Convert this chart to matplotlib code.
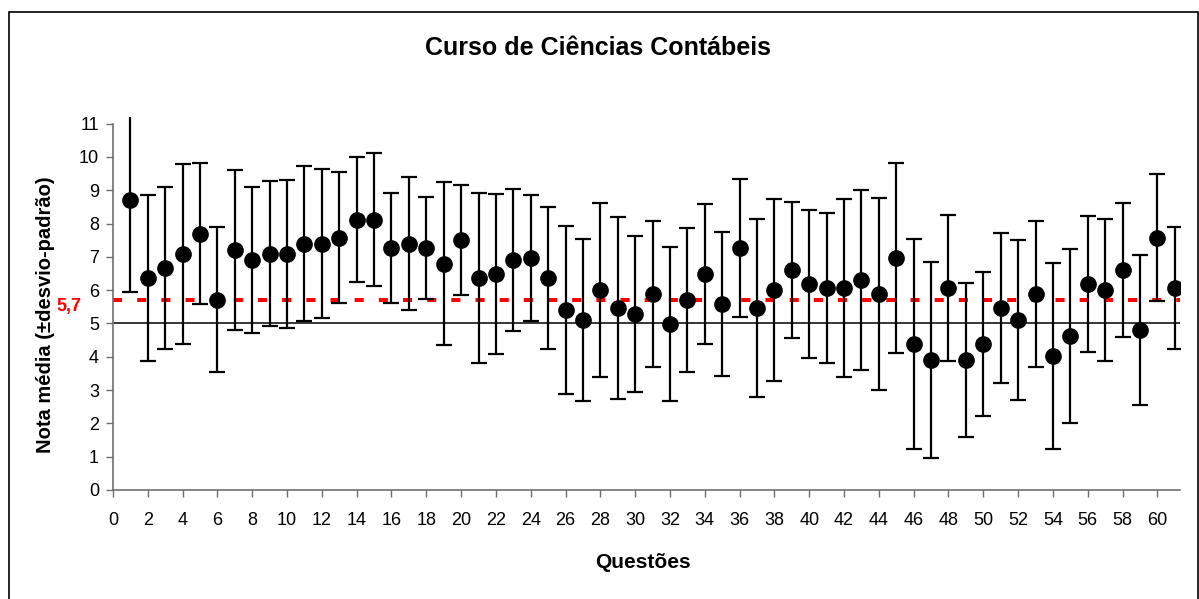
import matplotlib
matplotlib.use("Agg")
import matplotlib.pyplot as plt
from matplotlib.patches import Rectangle

plt.rcParams['font.family'] = ['Liberation Sans', 'DejaVu Sans']

# Nota média e desvio-padrão por questão
questoes = list(range(1, 62))
media = [8.72, 6.36, 6.66, 7.09, 7.70, 5.71, 7.20, 6.91, 7.09, 7.09,
         7.40, 7.40, 7.58, 8.12, 8.12, 7.27, 7.40, 7.27, 6.79, 7.51,
         6.36, 6.49, 6.91, 6.97, 6.36, 5.41, 5.11, 6.01, 5.47, 5.29,
         5.89, 4.99, 5.71, 6.49, 5.59, 7.27, 5.47, 6.01, 6.61, 6.19,
         6.07, 6.07, 6.31, 5.89, 6.97, 4.39, 3.91, 6.07, 3.91, 4.39,
         5.47, 5.11, 5.89, 4.03, 4.63, 6.19, 6.01, 6.61, 4.81, 7.58,
         6.07]
desvio = [2.78, 2.50, 2.44, 2.71, 2.12, 2.18, 2.41, 2.20, 2.18, 2.23,
          2.32, 2.23, 1.96, 1.87, 2.00, 1.66, 1.99, 1.54, 2.45, 1.66,
          2.56, 2.41, 2.14, 1.90, 2.14, 2.53, 2.44, 2.62, 2.74, 2.35,
          2.20, 2.32, 2.17, 2.11, 2.17, 2.08, 2.68, 2.74, 2.05, 2.23,
          2.26, 2.68, 2.71, 2.89, 2.86, 3.16, 2.95, 2.20, 2.32, 2.17,
          2.26, 2.41, 2.20, 2.80, 2.62, 2.05, 2.14, 2.02, 2.25, 1.90,
          1.84]
media_geral = 5.7
nota_corte = 5

fig = plt.figure(figsize=(11.99, 5.99), dpi=100)
fig.patches.append(Rectangle((9 / 1199, -0.01), 1189 / 1199, 1 - 12 / 599 + 0.01,
                             transform=fig.transFigure, fill=False,
                             edgecolor='black', linewidth=1.2))

ax = fig.add_axes([113 / 1199, 1 - 490 / 599, (1180 - 113) / 1199, (490 - 117) / 599])

ax.axhline(nota_corte, color='black', linewidth=1.1, zorder=1)
ax.axhline(media_geral, color='#ff0000', linewidth=2.9,
           linestyle=(0, (2.25, 3.75)), zorder=2)

ax.errorbar(questoes, media, yerr=desvio, fmt='o', color='black',
            markersize=11, elinewidth=1.6, capsize=6, capthick=1.6, zorder=3)

ax.set_xlim(0, 61.3)
ax.set_ylim(0, 11.2)
ax.set_xticks(range(0, 61, 2))
ax.set_yticks(range(0, 12))
ax.tick_params(axis='both', labelsize=13, direction='out', length=5,
               color='#707070', width=1)
ax.tick_params(axis='x', pad=11)
ax.tick_params(axis='y', pad=5)

for s in ['top', 'right']:
    ax.spines[s].set_visible(False)
for s in ['left', 'bottom']:
    ax.spines[s].set_color('#707070')
    ax.spines[s].set_linewidth(1.2)
ax.spines['left'].set_bounds(0, 11)

fig.text(81 / 1199, 1 - 306 / 599, '5,7', color='#ff0000', fontsize=13,
         fontweight='bold', ha='right', va='center')

fig.text(598 / 1199, 1 - 48 / 599, 'Curso de Ciências Contábeis',
         fontsize=18, fontweight='bold', ha='center', va='center')
fig.text(46 / 1199, 1 - 315 / 599, 'Nota média (±desvio-padrão)',
         fontsize=14.5, fontweight='bold', rotation=90, ha='center', va='center')
fig.text(643 / 1199, 1 - 563 / 599, 'Questões',
         fontsize=15, fontweight='bold', ha='center', va='center')

fig.savefig('out.png', dpi=100)
